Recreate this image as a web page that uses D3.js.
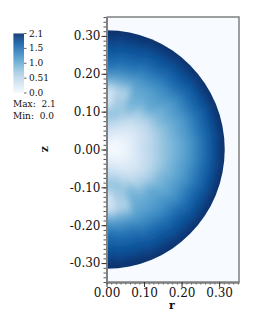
<!DOCTYPE html>
<html lang="en">
<head>
<meta charset="utf-8">
<title>Density r z</title>
<script src="https://cdn.jsdelivr.net/npm/d3@7"></script>
<style>
  body { margin: 0; background: #fff; }
  text { font-family: "DejaVu Serif", serif; fill: #111; }
  .axis path { stroke: #808080; stroke-width: 2; }
  .axis line { stroke: #333; }
  .minor line { stroke: #555; }
  .axis text { font-size: 12px; }
  .legend text { font-size: 9px; }
</style>
</head>
<body>
<script>
var w = 266, h = 332;

var majorTicks = [0, 0.1, 0.2, 0.3];
var zTicks = [-0.3, -0.2, -0.1, 0, 0.1, 0.2, 0.3];
var legendTicks = [[2.1, "2.1"], [1.575, "1.5"], [1.05, "1.0"], [0.525, "0.51"], [0, "0.0"]];
var sphereRadius = 0.315;

// polar mesh, value at each node
var radii = [0, 0.1, 0.2, 0.3, 0.4, 0.5, 0.6, 0.7, 0.8, 0.9, 0.96, 1];
var angles = [90, 75, 60, 45, 30, 15, 0, -15, -30, -45, -60, -75, -90];
var values = [
  [0.02, 0.28, 0.55, 0.85, 0.35, 0.40, 1.15, 1.55, 1.75, 1.92, 2.05, 2.10],
  [0.02, 0.22, 0.48, 0.85, 0.75, 0.65, 1.15, 1.50, 1.72, 1.90, 2.05, 2.10],
  [0.02, 0.15, 0.38, 0.62, 0.95, 1.05, 1.18, 1.42, 1.68, 1.88, 2.03, 2.10],
  [0.02, 0.10, 0.28, 0.45, 0.72, 1.08, 1.20, 1.38, 1.65, 1.86, 2.02, 2.10],
  [0.02, 0.06, 0.22, 0.40, 0.62, 0.95, 1.12, 1.32, 1.60, 1.84, 2.02, 2.10],
  [0.02, 0.04, 0.20, 0.42, 0.62, 0.88, 1.08, 1.28, 1.56, 1.82, 2.02, 2.10],
  [0.02, 0.04, 0.20, 0.48, 0.66, 0.88, 1.05, 1.25, 1.54, 1.82, 2.02, 2.10],
  [0.02, 0.04, 0.20, 0.42, 0.62, 0.88, 1.08, 1.28, 1.56, 1.82, 2.02, 2.10],
  [0.02, 0.06, 0.22, 0.40, 0.62, 0.95, 1.12, 1.32, 1.60, 1.84, 2.02, 2.10],
  [0.02, 0.10, 0.28, 0.45, 0.72, 1.08, 1.20, 1.38, 1.65, 1.86, 2.02, 2.10],
  [0.02, 0.15, 0.38, 0.62, 0.95, 1.05, 1.18, 1.42, 1.68, 1.88, 2.03, 2.10],
  [0.02, 0.22, 0.48, 0.85, 0.75, 0.65, 1.15, 1.50, 1.72, 1.90, 2.05, 2.10],
  [0.02, 0.28, 0.55, 0.85, 0.35, 0.40, 1.15, 1.55, 1.75, 1.92, 2.05, 2.10]
];

var xScale = d3.scaleLinear().domain([0, 0.353]).range([106.5, 239]);
var yScale = d3.scaleLinear().domain([-0.35, 0.35]).range([282, 17]);
var color = d3.scaleSequential(d3.interpolateBlues).domain([0, 2.1]);
var tickFormat = function(d){ return d3.format(".2f")(d).replace("\u2212", "-"); };

var svg = d3.select("body").append("svg")
  .attr("width", w)
  .attr("height", h)
  .style("display", "block");

var defs = svg.append("defs");
defs.append("filter").attr("id", "smooth")
  .attr("x", "-10%").attr("y", "-10%").attr("width", "120%").attr("height", "120%")
  .append("feGaussianBlur").attr("stdDeviation", 3);
defs.append("clipPath").attr("id", "disk")
  .append("path")
  .attr("d", d3.arc()({
    innerRadius: 0,
    outerRadius: xScale(sphereRadius) - xScale(0),
    startAngle: 0,
    endAngle: Math.PI
  }));

var pxR = function(f){ return (xScale(f * sphereRadius) - xScale(0)); };
var outerEdge = 1.15;

// one radial gradient for each wedge of the mesh
angles.forEach(function(a, i){
  var grad = defs.append("radialGradient")
    .attr("id", "wedge" + i)
    .attr("gradientUnits", "userSpaceOnUse")
    .attr("cx", 0).attr("cy", 0)
    .attr("r", pxR(outerEdge));
  radii.forEach(function(f, j){
    grad.append("stop")
      .attr("offset", f / outerEdge)
      .attr("stop-color", color(values[i][j]));
  });
});

// background
svg.append("rect")
  .attr("x", xScale(0))
  .attr("y", yScale(0.35))
  .attr("width", xScale(0.353) - xScale(0))
  .attr("height", yScale(-0.35) - yScale(0.35))
  .attr("fill", color(0));

var ky = (yScale(0) - yScale(sphereRadius)) / (xScale(sphereRadius) - xScale(0));
var sphere = svg.append("g")
  .attr("transform", "translate(" + xScale(0) + "," + yScale(0) + ") scale(1," + ky + ")")
  .append("g")
  .attr("clip-path", "url(#disk)")
  .append("g")
  .attr("filter", "url(#smooth)");

var arc = d3.arc();

// mirrored over the axis too so the blur does not fade out at r = 0
[1, -1].forEach(function(side){
  var half = sphere.append("g").attr("transform", "scale(" + side + ",1)");
  angles.forEach(function(a, i){
    var a0 = i === 0 ? 90 : a + 7.5;
    var a1 = i === angles.length - 1 ? -90 : a - 7.5;
    half.append("path")
      .attr("d", arc({
        innerRadius: 0,
        outerRadius: pxR(outerEdge),
        startAngle: (90 - a0) * Math.PI / 180,
        endAngle: (90 - a1) * Math.PI / 180
      }))
      .attr("fill", "url(#wedge" + i + ")")
      .attr("stroke", "url(#wedge" + i + ")")
      .attr("stroke-width", 0.5);
  });
});

// frame on the top and right
svg.append("path")
  .attr("d", "M" + xScale(0) + "," + yScale(0.35) + "H" + xScale(0.353) + "V" + yScale(-0.35))
  .attr("fill", "none")
  .attr("stroke", "#808080")
  .attr("stroke-width", 1.5);

// axes
var xMinor = d3.range(0, 36).map(function(d){ return d / 100 * 1.25; }).filter(function(d){ return d <= 0.353; });
var yMinor = d3.range(-28, 29).map(function(d){ return d * 0.0125; });

svg.append("g").attr("class", "axis minor")
  .attr("transform", "translate(0," + yScale(-0.35) + ")")
  .call(d3.axisBottom(xScale).tickValues(xMinor).tickSize(2.5).tickSizeOuter(0).tickFormat(""));
svg.append("g").attr("class", "axis minor")
  .attr("transform", "translate(" + xScale(0) + ",0)")
  .call(d3.axisLeft(yScale).tickValues(yMinor).tickSize(3).tickSizeOuter(0).tickFormat(""));
svg.append("g").attr("class", "axis")
  .attr("transform", "translate(0," + yScale(-0.35) + ")")
  .call(d3.axisBottom(xScale).tickValues(majorTicks).tickSize(5).tickSizeOuter(0).tickPadding(1).tickFormat(tickFormat));
svg.append("g").attr("class", "axis")
  .attr("transform", "translate(" + xScale(0) + ",0)")
  .call(d3.axisLeft(yScale).tickValues(zTicks).tickSize(5).tickSizeOuter(0).tickPadding(1).tickFormat(tickFormat));

svg.append("text")
  .attr("x", 172).attr("y", 308.5)
  .attr("text-anchor", "middle")
  .attr("font-weight", "bold")
  .attr("font-size", 11)
  .text("r");
svg.append("text")
  .attr("transform", "translate(48,149) rotate(-90)")
  .attr("text-anchor", "middle")
  .attr("font-weight", "bold")
  .attr("font-size", 11)
  .text("z");

// legend
var legendScale = d3.scaleLinear().domain([0, 2.1]).range([93, 33.5]);
var legend = svg.append("g").attr("class", "legend");
legend.selectAll("rect")
  .data(d3.range(0, 60))
  .enter().append("rect")
  .attr("x", 13.5)
  .attr("width", 10.5)
  .attr("y", function(d){ return legendScale((d + 1) / 60 * 2.1); })
  .attr("height", 1.3)
  .attr("fill", function(d){ return color((d + 0.5) / 60 * 2.1); });
legend.selectAll("line")
  .data(legendTicks)
  .enter().append("line")
  .attr("x1", 24).attr("x2", 26.5)
  .attr("y1", function(d){ return legendScale(d[0]); })
  .attr("y2", function(d){ return legendScale(d[0]); })
  .attr("stroke", "#666");
legend.selectAll("text.tick")
  .data(legendTicks)
  .enter().append("text")
  .attr("class", "tick")
  .attr("x", 29)
  .attr("y", function(d){ return legendScale(d[0]) + 3; })
  .text(function(d){ return d[1]; });
legend.append("text").attr("x", 13).attr("y", 107).text("Max:  2.1").attr("xml:space", "preserve");
legend.append("text").attr("x", 13).attr("y", 119).text("Min:  0.0").attr("xml:space", "preserve");
</script>
</body>
</html>
